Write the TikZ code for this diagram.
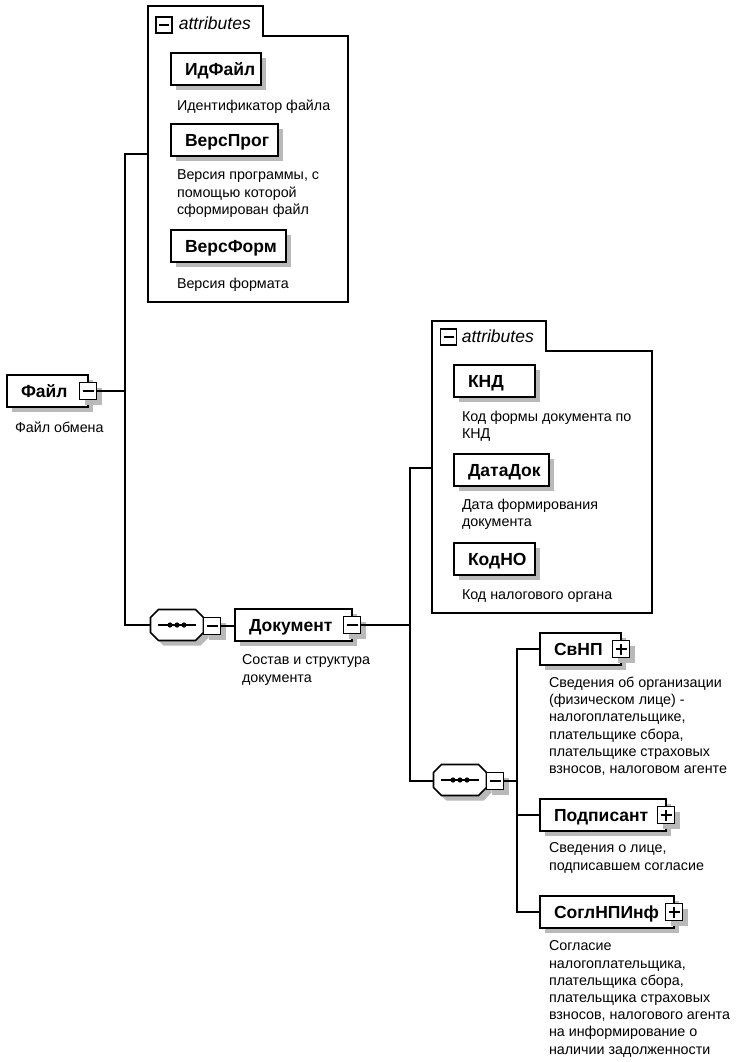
\documentclass[tikz,border=0pt]{standalone}
\usepackage{fontspec}
\setmainfont{Liberation Sans}
\begin{document}
\begin{tikzpicture}[x=1pt,y=-1pt,line width=1.6pt,
  shadowed/.style={preaction={draw=none,fill=gray!55,transform canvas={shift={(5pt,-5pt)}}}},
  elem/.style={draw,fill=white,shadowed,line width=1.8pt,anchor=north west,outer sep=0pt,
    inner xsep=14pt,inner ysep=0pt,minimum height=32pt,align=left,
    text height=12.4pt,text depth=0pt,font=\bfseries\fontsize{17.5}{20}\selectfont},
  desc/.style={anchor=north west,inner sep=0pt,outer sep=0pt,align=left,
    font=\fontsize{14.3}{17.2}\selectfont,execute at begin node=\strut},
  iconbase/.style={draw,fill=white,line width=1.4pt,minimum size=17pt,inner sep=0pt,outer sep=0pt},
  icon/.style={iconbase,shadowed},
  minusbar/.style={path picture={\draw[line width=1.4pt]
      ([xshift=3pt]path picture bounding box.west) -- ([xshift=-3pt]path picture bounding box.east);}},
  minus/.style={icon,minusbar},
  plus/.style={icon,path picture={\draw[line width=1.4pt]
      ([xshift=3pt]path picture bounding box.west) -- ([xshift=-3pt]path picture bounding box.east)
      ([yshift=-3pt]path picture bounding box.north) -- ([yshift=3pt]path picture bounding box.south);}},
  grpicon/.style={iconbase,minusbar,minimum size=16pt},
  grptext/.style={anchor=west,inner sep=0pt,font=\itshape\fontsize{17.5}{20}\selectfont},
  seqbox/.style={minimum width=53pt,minimum height=31pt,inner sep=0pt,outer sep=0pt}
]
\useasboundingbox[fill=white] (0,0) rectangle (746,1062);

% ---------- attribute group 1 ----------
\draw (148,6) -- (263,6) -- (263,36) -- (348,36) -- (348,302) -- (148,302) -- cycle;
\node[grpicon] (g1m) at (164,25) {};
\node[grptext] (g1t) at (178,23) {attributes};
\node[elem,text width=62pt] (idf) at (171,53) {ИдФайл};
\node[desc] (idfd) at (177,98) {Идентификатор файла};
\node[elem,text width=79pt] (vprog) at (171,124) {ВерсПрог};
\node[desc] (vprogd) at (177,170) {Версия программы, с\\помощью которой\\сформирован файл};
\node[elem,text width=87pt] (vform) at (171,230) {ВерсФорм};
\node[desc] (vformd) at (177,276) {Версия формата};
\coordinate (a1w) at (148,154);

% ---------- root ----------
\node[elem,text width=53pt] (file) at (7,375) {Файл};
\node[minus] (filem) at (file.east) {};
\node[desc] (filed) at (15,420) {Файл обмена};

% ---------- sequence 1 ----------
\node[seqbox] (seq1) at (177,625) {};
\draw[fill=white,shadowed] ([xshift=8pt]seq1.north west) -- ([xshift=-8pt]seq1.north east)
  -- ([yshift=-8pt]seq1.north east) -- ([yshift=8pt]seq1.south east)
  -- ([xshift=-8pt]seq1.south east) -- ([xshift=8pt]seq1.south west)
  -- ([yshift=8pt]seq1.south west) -- ([yshift=-8pt]seq1.north west) -- cycle;
\draw ([xshift=-19pt]seq1.center) -- ([xshift=19pt]seq1.center);
\fill ([xshift=-7pt]seq1.center) circle (2.6pt) (seq1.center) circle (2.6pt) ([xshift=7pt]seq1.center) circle (2.6pt);
\node[minus,anchor=west] (seq1m) at ([yshift=-1pt]seq1.east) {};

% ---------- Документ ----------
\node[elem,text width=89pt] (doc) at (235,609) {Документ};
\node[minus] (docm) at (doc.east) {};
\node[desc] (docd) at (242,655) {Состав и структура\\документа};

% ---------- attribute group 2 ----------
\draw (432,321) -- (546,321) -- (546,351) -- (652,351) -- (652,613) -- (432,613) -- cycle;
\node[grpicon] (g2m) at (448.5,337) {};
\node[grptext] (g2t) at (461,336) {attributes};
\node[elem,text width=53pt] (knd) at (454,365) {КНД};
\node[desc] (kndd) at (462,411) {Код формы документа по\\КНД};
\node[elem,text width=67pt] (dd) at (454,454) {ДатаДок};
\node[desc] (ddd) at (462,499) {Дата формирования\\документа};
\node[elem,text width=53pt] (kno) at (454,543) {КодНО};
\node[desc] (knod) at (462,587) {Код налогового органа};
\coordinate (a2w) at (432,468);

% ---------- sequence 2 ----------
\node[seqbox] (seq2) at (460,780) {};
\draw[fill=white,shadowed] ([xshift=8pt]seq2.north west) -- ([xshift=-8pt]seq2.north east)
  -- ([yshift=-8pt]seq2.north east) -- ([yshift=8pt]seq2.south east)
  -- ([xshift=-8pt]seq2.south east) -- ([xshift=8pt]seq2.south west)
  -- ([yshift=8pt]seq2.south west) -- ([yshift=-8pt]seq2.north west) -- cycle;
\draw ([xshift=-19pt]seq2.center) -- ([xshift=19pt]seq2.center);
\fill ([xshift=-7pt]seq2.center) circle (2.6pt) (seq2.center) circle (2.6pt) ([xshift=7pt]seq2.center) circle (2.6pt);
\node[minus,anchor=west] (seq2m) at ([yshift=-1pt]seq2.east) {};

% ---------- children ----------
\node[elem,text width=53pt] (svnp) at (540,633) {СвНП};
\node[plus] (svnpp) at (svnp.east) {};
\node[desc] (svnpd) at (549,677) {Сведения об организации\\(физическом лице) -\\налогоплательщике,\\плательщике сбора,\\плательщике страховых\\взносов, налоговом агенте};
\node[elem,text width=98pt] (podp) at (540,799) {Подписант};
\node[plus] (podpp) at (podp.east) {};
\node[desc] (podpd) at (549,843) {Сведения о лице,\\подписавшем согласие};
\node[elem,text width=106pt] (sogl) at (540,896) {СоглНПИнф};
\node[plus] (soglp) at (sogl.east) {};
\node[desc] (sogld) at (549,941) {Согласие\\налогоплательщика,\\плательщика сбора,\\плательщика страховых\\взносов, налогового агента\\на информирование о\\наличии задолженности};

% ---------- connectors ----------
\coordinate (c1t) at (125,154);
\coordinate (c2t) at (410,468);
\coordinate (c3t) at (517,649);
\draw (filem.east) -- (filem.east -| c1t);
\draw (a1w) -- (c1t) -- (c1t |- seq1.west) -- (seq1.west);
\draw (seq1m.east) -- (seq1m.east -| doc.west);
\draw (docm.east) -- (docm.east -| c2t);
\draw (a2w) -- (c2t) -- (c2t |- seq2m.east) -- (seq2.west |- seq2m.east);
\draw (seq2m.east) -- (seq2m.east -| c3t);
\draw (svnp.west) -- (c3t) -- (c3t |- sogl.west) -- (sogl.west);
\draw (podp.west) -- (podp.west -| c3t);
\end{tikzpicture}
\end{document}
